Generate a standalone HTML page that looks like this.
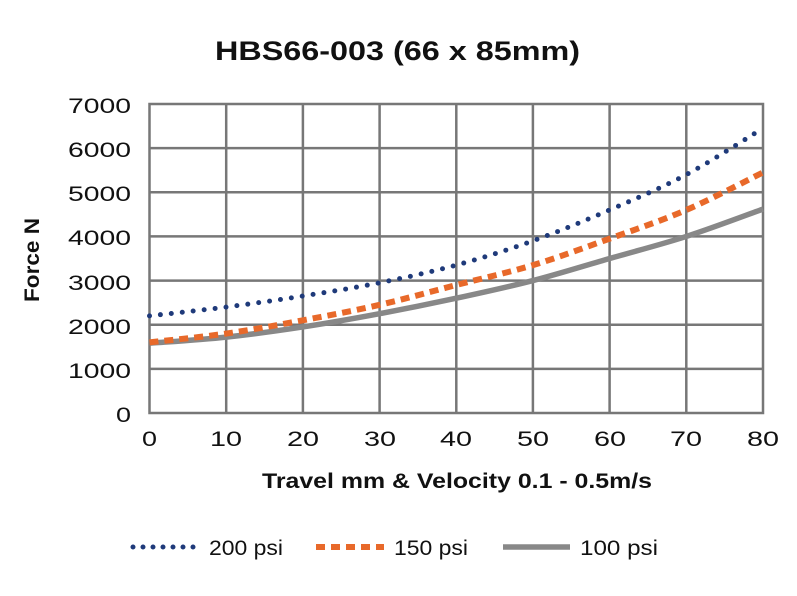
<!DOCTYPE html><html><head><style>body{margin:0;background:#fff}</style></head><body>
<svg id="s" width="797" height="591" xmlns="http://www.w3.org/2000/svg" font-family="Liberation Sans, sans-serif">
<text x="215" y="60" font-size="27" font-weight="bold" fill="#111" textLength="365" lengthAdjust="spacingAndGlyphs">HBS66-003 (66 x 85mm)</text>
<g stroke="#777" stroke-width="2.5" fill="none">
<rect x="149.5" y="104" width="613.5" height="309"/>
<path d="M226.2 104V413M302.9 104V413M379.6 104V413M456.3 104V413M532.9 104V413M609.6 104V413M686.3 104V413M149.5 148.1H763M149.5 192.3H763M149.5 236.4H763M149.5 280.6H763M149.5 324.7H763M149.5 368.9H763"/>
</g>
<g font-size="21" fill="#111">
<text x="68" y="113" textLength="63" lengthAdjust="spacingAndGlyphs">7000</text>
<text x="68" y="157" textLength="63" lengthAdjust="spacingAndGlyphs">6000</text>
<text x="68" y="201" textLength="63" lengthAdjust="spacingAndGlyphs">5000</text>
<text x="68" y="245" textLength="63" lengthAdjust="spacingAndGlyphs">4000</text>
<text x="68" y="290" textLength="63" lengthAdjust="spacingAndGlyphs">3000</text>
<text x="68" y="334" textLength="63" lengthAdjust="spacingAndGlyphs">2000</text>
<text x="68" y="378" textLength="63" lengthAdjust="spacingAndGlyphs">1000</text>
<text x="116" y="422" textLength="15" lengthAdjust="spacingAndGlyphs">0</text>
</g>
<g font-size="21" fill="#111">
<text x="142" y="446" textLength="15" lengthAdjust="spacingAndGlyphs">0</text>
<text x="210" y="446" textLength="32" lengthAdjust="spacingAndGlyphs">10</text>
<text x="287" y="446" textLength="32" lengthAdjust="spacingAndGlyphs">20</text>
<text x="364" y="446" textLength="32" lengthAdjust="spacingAndGlyphs">30</text>
<text x="440" y="446" textLength="32" lengthAdjust="spacingAndGlyphs">40</text>
<text x="517" y="446" textLength="32" lengthAdjust="spacingAndGlyphs">50</text>
<text x="594" y="446" textLength="32" lengthAdjust="spacingAndGlyphs">60</text>
<text x="670" y="446" textLength="32" lengthAdjust="spacingAndGlyphs">70</text>
<text x="747" y="446" textLength="32" lengthAdjust="spacingAndGlyphs">80</text>
</g>
<text x="262" y="488" font-size="21" font-weight="bold" fill="#111" textLength="390" lengthAdjust="spacingAndGlyphs">Travel mm &amp; Velocity 0.1 - 0.5m/s</text>
<text transform="translate(39,302) rotate(-90)" font-size="21" font-weight="bold" fill="#111" textLength="84" lengthAdjust="spacingAndGlyphs">Force N</text>
<path id="g" fill="none" stroke="#888" stroke-width="5.5"/>
<path id="o" fill="none" stroke="#e8692a" stroke-width="6" stroke-dasharray="9 6"/>
<path id="b" fill="none" stroke="#1f3a7a" stroke-width="5" stroke-dasharray="0 11" stroke-linecap="round"/>
<line x1="133" y1="547" x2="200" y2="547" stroke="#1f3a7a" stroke-width="5" stroke-dasharray="0 10" stroke-linecap="round"/>
<text x="209" y="555" font-size="21" fill="#111" textLength="74" lengthAdjust="spacingAndGlyphs">200 psi</text>
<line x1="316" y1="547" x2="384" y2="547" stroke="#e8692a" stroke-width="6" stroke-dasharray="9 6"/>
<text x="394" y="555" font-size="21" fill="#111" textLength="74" lengthAdjust="spacingAndGlyphs">150 psi</text>
<line x1="503" y1="547" x2="570" y2="547" stroke="#888" stroke-width="5.5"/>
<text x="580" y="555" font-size="21" fill="#111" textLength="78" lengthAdjust="spacingAndGlyphs">100 psi</text>
</svg>
<script>
function mk(id,v){var p=v.map(function(y,i){return[149.5+i*76.69,413-y*0.04414]});
var d="M"+p[0][0]+" "+p[0][1];
for(var i=0;i<p.length-1;i++){var a=p[i-1]||p[i],b=p[i],c=p[i+1],e=p[i+2]||c;
d+=" C"+(b[0]+(c[0]-a[0])/6)+" "+(b[1]+(c[1]-a[1])/6)+","+(c[0]-(e[0]-b[0])/6)+" "+(c[1]-(e[1]-b[1])/6)+","+c[0]+" "+c[1];}
document.getElementById(id).setAttribute("d",d);}
mk("g",[1580,1720,1950,2250,2600,3000,3500,4000,4620]);
mk("o",[1600,1800,2100,2450,2900,3350,3950,4600,5450]);
mk("b",[2200,2400,2650,2950,3350,3900,4600,5400,6450]);
</script>
</body></html>
